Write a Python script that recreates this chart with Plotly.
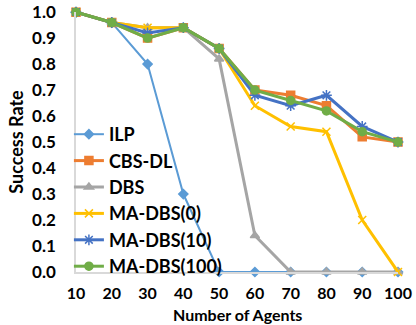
import plotly.graph_objects as go

agents = [10, 20, 30, 40, 50, 60, 70, 80, 90, 100]
ilp = [1.0, 0.96, 0.80, 0.30, 0.0, 0.0, 0.0, 0.0, 0.0, 0.0]
cbs_dl = [1.0, 0.96, 0.90, 0.94, 0.86, 0.70, 0.68, 0.64, 0.52, 0.50]
dbs = [1.0, 0.96, 0.94, 0.94, 0.82, 0.14, 0.0, 0.0, 0.0, 0.0]
ma_dbs_0 = [1.0, 0.96, 0.94, 0.94, 0.86, 0.64, 0.56, 0.54, 0.20, 0.0]
ma_dbs_10 = [1.0, 0.96, 0.92, 0.94, 0.86, 0.68, 0.64, 0.68, 0.56, 0.50]
ma_dbs_100 = [1.0, 0.96, 0.90, 0.94, 0.86, 0.70, 0.66, 0.62, 0.54, 0.50]
y_ticks = [0.0, 0.1, 0.2, 0.3, 0.4, 0.5, 0.6, 0.7, 0.8, 0.9, 1.0]

series = [
    ("ILP", ilp, "#5B9BD5", "diamond", 7, 2),
    ("CBS-DL", cbs_dl, "#ED7D31", "square", 8, 3),
    ("DBS", dbs, "#A5A5A5", "triangle-up", 8, 3),
    ("MA-DBS(0)", ma_dbs_0, "#FFC000", "x-thin", 8, 3),
    ("MA-DBS(10)", ma_dbs_10, "#4472C4", "asterisk", 9, 3),
    ("MA-DBS(100)", ma_dbs_100, "#70AD47", "circle", 8, 3),
]

fig = go.Figure()
for name, vals, color, sym, size, width in series:
    fig.add_trace(go.Scatter(
        x=agents, y=vals, name=name, mode="lines+markers",
        line=dict(color=color, width=width),
        marker=dict(symbol=sym, size=size, color=color,
                    line=dict(color=color, width=1.5)),
        cliponaxis=False, legendgroup=name,
    ))

font_family = "Lato, 'Open Sans', sans-serif"
fig.update_layout(
    width=416, height=325,
    margin=dict(l=76, r=18, t=12, b=53, autoexpand=False),
    paper_bgcolor="white", plot_bgcolor="white",
    font=dict(family=font_family, size=18, color="black", weight="bold"),
    showlegend=True,
    legend=dict(x=-0.022, y=0.6, xanchor="left", yanchor="top",
                bgcolor="rgba(0,0,0,0)", tracegroupgap=0,
                font=dict(size=18, weight="bold"), itemwidth=30),
    xaxis=dict(range=[10, 100], tickvals=agents, ticktext=[str(a) for a in agents],
               showgrid=False, zeroline=False, showline=True, linecolor="#D9D9D9",
               linewidth=1.5, ticks="", ticklabelstandoff=6, automargin=False,
               ticklabeloverflow="allow", tickfont=dict(size=16)),
    yaxis=dict(range=[0, 1.0005], tickvals=y_ticks, ticktext=[f"{v:.1f}" for v in y_ticks],
               showgrid=False, zeroline=False, showline=True, linecolor="#D9D9D9",
               linewidth=1.5, ticks="", ticklabelstandoff=15, automargin=False,
               ticklabeloverflow="allow", tickfont=dict(size=17),
               title=dict(text="Success Rate", standoff=4,
                          font=dict(size=18, weight="bold"))),
    annotations=[dict(text="Number of Agents", xref="paper", yref="paper",
                      x=0.5, y=-(314.4 - 272) / 260, xanchor="center", yanchor="middle",
                      showarrow=False, borderpad=0,
                      font=dict(size=16, weight="bold"))],
)
fig.write_html("out.html", post_script="document.body.style.margin='0';",
               config={"displayModeBar": False})
